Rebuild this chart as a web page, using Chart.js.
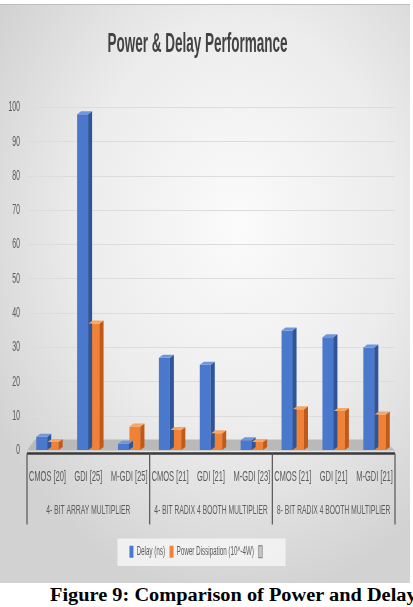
<!DOCTYPE html>
<html>
<head>
<meta charset="utf-8">
<script src="https://cdn.jsdelivr.net/npm/chart.js@4.4.0/dist/chart.umd.min.js"></script>
<style>
  html, body { margin: 0; padding: 0; background: #ffffff; width: 413px; height: 607px; overflow: hidden; }
  #box {
    position: absolute; left: 0; top: 4px; width: 410px; height: 579px;
    background: radial-gradient(ellipse 70% 65% at 58% 38%, #fbfbfb 0%, #ececec 55%, #d2d2d2 100%);
    border-top: 1px solid #bdbdbd;
    box-sizing: border-box;
  }
  #wrap {
    position: absolute; left: 0; top: 0; width: 820px; height: 578px;
    transform: scaleX(0.5); transform-origin: 0 0;
  }
  #caption {
    position: absolute; left: 50px; top: 585px; white-space: nowrap; line-height: 20px;
    font-family: 'Liberation Serif', 'Times New Roman', serif; font-weight: bold; font-size: 18.5px; color: #000;
    transform: scaleX(1.1); transform-origin: 0 0;
  }
</style>
</head>
<body>
<div id="box"><div id="wrap"><canvas id="c" width="820" height="578"></canvas></div></div>
<div id="caption">Figure 9: Comparison of Power and Delay</div>
<script>
const categories = ['CMOS [20]', 'GDI [25]', 'M-GDI [25]', 'CMOS [21]', 'GDI [21]', 'M-GDI [23]', 'CMOS [21]', 'GDI [21]', 'M-GDI [21]'];
const groups = ['4- BIT ARRAY MULTIPLIER', '4- BIT RADIX 4 BOOTH MULTIPLIER', '8- BIT RADIX 4 BOOTH MULTIPLIER'];
const groupSize = 3;
const delayNs = [4, 98, 2, 27, 25, 3, 35, 33, 30];
const powerDiss = [2.5, 37, 7, 6, 5, 2.5, 12, 11.5, 10.5];
const seriesNames = ['Delay (ns)', 'Power Dissipation (10^-4W)', ''];
const yTicks = [0, 10, 20, 30, 40, 50, 60, 70, 80, 90, 100];

const FONT = "'Liberation Sans', Arial, sans-serif";

const shade = {
  '#4a78cc': { top: '#6f97df', side: '#2f5597' },
  '#ef8236': { top: '#f6a667', side: '#c0591a' }
};

const floorAnd3D = {
  id: 'floorAnd3D',
  beforeDraw(chart) {
    const lg = chart.legend;
    if (!lg || !lg.legendHitBoxes || !lg.legendHitBoxes.length) return;
    const hb = lg.legendHitBoxes;
    const l = Math.min(...hb.map(b => b.left)) - 24;
    const r = Math.max(...hb.map(b => b.left + b.width)) + 40;
    const { ctx } = chart;
    ctx.save();
    ctx.fillStyle = 'rgba(246,246,246,0.8)';
    ctx.fillRect(l, lg.top + 2, r - l, lg.height - 4);
    ctx.restore();
  },
  beforeDatasetsDraw(chart) {
    const { ctx, chartArea: a } = chart;
    ctx.save();
    ctx.fillStyle = '#b9b9b9';
    ctx.beginPath();
    ctx.moveTo(a.left, a.bottom);
    ctx.lineTo(a.right, a.bottom);
    ctx.lineTo(a.right - 26, a.bottom - 11);
    ctx.lineTo(a.left + 16, a.bottom - 11);
    ctx.closePath();
    ctx.fill();
    ctx.restore();
  },
  afterDatasetsDraw(chart) {
    const { ctx } = chart;
    const dx = 8, dy = 3;
    chart.data.datasets.forEach((ds, di) => {
      const meta = chart.getDatasetMeta(di);
      if (meta.hidden) return;
      const s = shade[ds.backgroundColor];
      if (!s) return;
      meta.data.forEach(bar => {
        const { x, y, base, width } = bar.getProps(['x', 'y', 'base', 'width'], true);
        const l = x - width / 2, r = x + width / 2;
        ctx.save();
        ctx.fillStyle = s.side;
        ctx.beginPath();
        ctx.moveTo(r, y); ctx.lineTo(r + dx, y - dy); ctx.lineTo(r + dx, base - dy); ctx.lineTo(r, base);
        ctx.closePath(); ctx.fill();
        ctx.fillStyle = s.top;
        ctx.beginPath();
        ctx.moveTo(l, y); ctx.lineTo(l + dx, y - dy); ctx.lineTo(r + dx, y - dy); ctx.lineTo(r, y);
        ctx.closePath(); ctx.fill();
        ctx.restore();
      });
    });
  },
  afterDraw(chart) {
    const { ctx, chartArea: a } = chart;
    const xs = chart.scales.x;
    ctx.save();
    ctx.strokeStyle = '#3a3a3a';
    ctx.lineWidth = 2.5;
    ctx.beginPath();
    ctx.moveTo(a.left, a.bottom + 3); ctx.lineTo(a.right, a.bottom + 3);
    ctx.stroke();
    const step = xs.getPixelForValue(1) - xs.getPixelForValue(0);
    ctx.lineWidth = 2.4;
    ctx.strokeStyle = '#555555';
    ctx.fillStyle = '#5a5a5a';
    ctx.font = '13.5px ' + FONT;
    ctx.textAlign = 'center';
    ctx.textBaseline = 'middle';
    for (let g = 0; g <= groups.length; g++) {
      const px = xs.getPixelForValue(g * groupSize) - step / 2;
      ctx.beginPath();
      ctx.moveTo(px, a.bottom + 3); ctx.lineTo(px, a.bottom + 74);
      ctx.stroke();
    }
    groups.forEach((name, g) => {
      const x0 = xs.getPixelForValue(g * groupSize) - step / 2;
      const x1 = xs.getPixelForValue((g + 1) * groupSize - 1) + step / 2;
      ctx.fillText(name, (x0 + x1) / 2, a.bottom + 60);
    });
    ctx.restore();
  }
};

new Chart(document.getElementById('c'), {
  type: 'bar',
  data: {
    labels: categories,
    datasets: [
      { label: seriesNames[0], data: delayNs, backgroundColor: '#4a78cc', borderWidth: 0 },
      { label: seriesNames[1], data: powerDiss, backgroundColor: '#ef8236', borderWidth: 0 }
    ]
  },
  options: {
    responsive: false,
    animation: false,
    events: [],
    datasets: { bar: { categoryPercentage: 0.56, barPercentage: 0.96 } },
    layout: { padding: { left: 0, right: 30, top: 0, bottom: 15 } },
    scales: {
      x: {
        grid: { display: false },
        border: { display: false },
        ticks: { color: '#5a5a5a', font: { family: FONT, size: 15 }, maxRotation: 0, minRotation: 0, autoSkip: false, padding: 9 },
        afterFit(scale) { scale.height = 86; }
      },
      y: {
        min: 0, max: 100,
        afterBuildTicks(scale) { scale.ticks = yTicks.map(v => ({ value: v })); },
        grid: { color: '#dcdcdc', lineWidth: 1, drawTicks: false },
        border: { display: false },
        ticks: { color: '#5a5a5a', font: { family: FONT, size: 14 }, padding: 14 },
        afterFit(scale) { scale.width = 54; }
      }
    },
    plugins: {
      title: {
        display: true, text: 'Power & Delay Performance', color: '#424242',
        font: { family: FONT, size: 27, weight: 'bold' },
        padding: { top: 23, bottom: 47 }
      },
      legend: {
        position: 'bottom',
        labels: {
          color: '#5a5a5a', font: { family: FONT, size: 12.5 }, boxWidth: 8, boxHeight: 12, padding: 9,
          generateLabels(chart) {
            const cols = ['#4a78cc', '#ef8236', '#c4c4c4'];
            return seriesNames.map((n, i) => ({ text: n, fillStyle: cols[i], strokeStyle: i === 2 ? '#777' : cols[i], lineWidth: i === 2 ? 1 : 0, hidden: false, datasetIndex: i, fontColor: '#5a5a5a' }));
          }
        }
      },
      tooltip: { enabled: false }
    }
  },
  plugins: [floorAnd3D]
});
</script>
</body>
</html>
